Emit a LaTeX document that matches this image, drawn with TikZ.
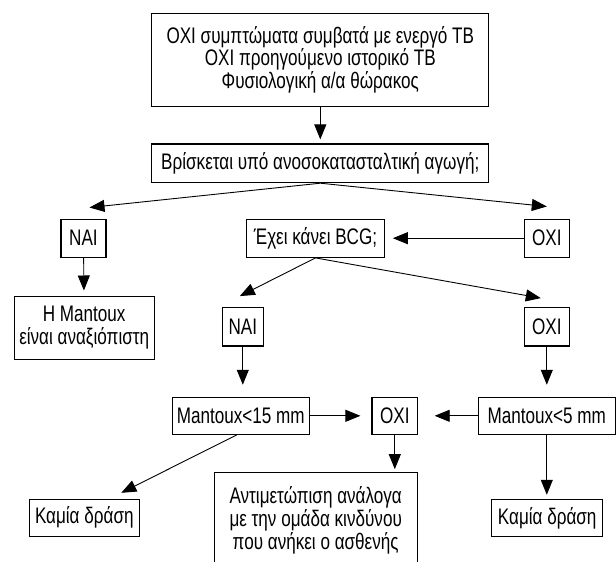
\documentclass[tikz,border=0pt]{standalone}
\usepackage{fontspec}
\setmainfont{Liberation Sans}[FakeStretch=0.76]
\usetikzlibrary{arrows.meta}
\begin{document}
\begin{tikzpicture}[x=1pt,y=-1pt,
  box/.style={draw,line width=1.1pt,align=center,inner sep=0pt,
    font=\fontsize{22.5}{22.8}\selectfont},
  arr/.style={line width=0.9pt,-{Triangle[length=15pt,width=12pt]}}]
 \clip (0,0) rectangle (616,562);
 \node[box,minimum width=337pt,minimum height=93pt] (sympt) at (320.3,59.7)
  {OXI συμπτώματα συμβατά με ενεργό ΤΒ\\OXI προηγούμενο ιστορικό ΤΒ\\Φυσιολογική α/α θώρακος};
 \node[box,minimum width=337pt,minimum height=38.7pt] (immuno) at (320.3,163.3)
  {Βρίσκεται υπό ανοσοκατασταλτική αγωγή;};
 \node[box,minimum width=45pt,minimum height=38.3pt] (naiA) at (83.5,238.2) {NAI};
 \node[box,minimum width=137.6pt,minimum height=38.3pt] (bcg) at (315.5,238.2) {Έχει κάνει BCG;};
 \node[box,minimum width=45pt,minimum height=38.3pt] (oxiA) at (546.8,238.2) {OXI};
 \node[box,minimum width=140.3pt,minimum height=63.3pt] (unrel) at (84.2,327.7)
  {Η Mantoux\\είναι αναξιόπιστη};
 \node[box,minimum width=41pt,minimum height=38.3pt] (naiB) at (242.8,326.8) {NAI};
 \node[box,minimum width=45pt,minimum height=38.3pt] (oxiB) at (546.8,326.8) {OXI};
 \node[box,minimum width=137pt,minimum height=37pt] (mant15) at (240.8,415.8) {Mantoux<15 mm};
 \node[box,minimum width=45.7pt,minimum height=37pt] (oxiC) at (394.8,415.8) {OXI};
 \node[box,minimum width=137pt,minimum height=37pt] (mant5) at (546.8,415.8) {Mantoux<5 mm};
 \node[box,minimum width=202.7pt,minimum height=95pt] (treat) at (315.7,520.2)
  {Αντιμετώπιση ανάλογα\\με την ομάδα κινδύνου\\που ανήκει ο ασθενής};
 \node[box,minimum width=110pt,minimum height=36.7pt] (noneA) at (84.3,517.7) {Καμία δράση};
 \node[box,minimum width=111pt,minimum height=37.4pt] (noneB) at (547.2,518) {Καμία δράση};
 \draw[arr,shorten >=4pt] (sympt) -- (immuno);
 \draw[arr] (immuno.south) -- ([xshift=6pt,yshift=11pt]naiA.north);
 \draw[arr] (immuno.south) -- ([yshift=12pt]oxiA.north);
 \draw[arr,shorten >=5pt] (naiA) -- (unrel);
 \draw[arr,shorten >=8pt] (oxiA) -- (bcg);
 \draw[arr] (bcg.south) -- ([xshift=-3pt,yshift=11pt]naiB.north);
 \draw[arr] (bcg.south) -- ([xshift=-6pt,yshift=9pt]oxiB.north);
 \draw[arr,shorten >=12pt] (naiB.south) -- (naiB.south |- mant15.north);
 \draw[arr,shorten >=12pt] (oxiB) -- (mant5);
 \draw[arr,shorten >=11pt] (mant15) -- (oxiC);
 \draw[arr,shorten >=16.5pt] (mant5) -- (oxiC);
 \draw[arr,shorten >=3pt] (oxiC.south) -- (oxiC.south |- treat.north);
 \draw[arr] ([xshift=-4pt]mant15.south) -- ([xshift=37pt,yshift=6pt]noneA.north);
 \draw[arr,shorten >=4pt] (mant5.south) -- (mant5.south |- noneB.north);
\end{tikzpicture}
\end{document}
